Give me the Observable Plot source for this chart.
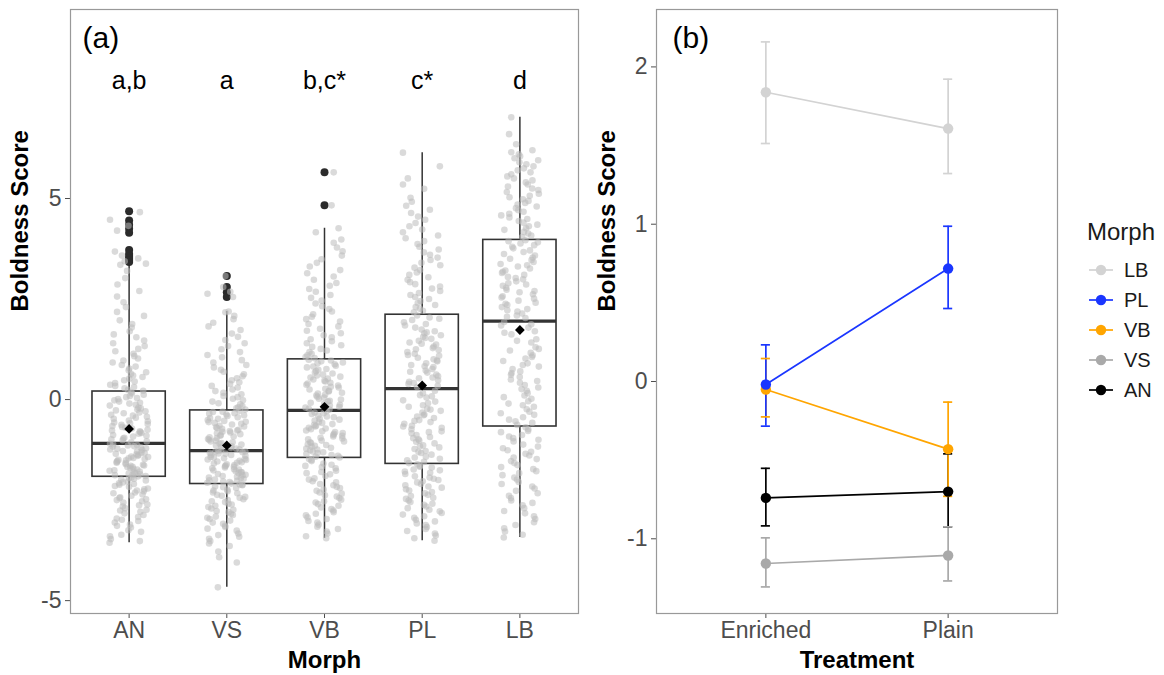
<!DOCTYPE html>
<html><head><meta charset="utf-8">
<script src="https://cdn.jsdelivr.net/npm/d3@7"></script>
<script src="https://cdn.jsdelivr.net/npm/@observablehq/plot@0.6"></script>
<style>
body{margin:0;background:#fff;font-family:"Liberation Sans",Arial,sans-serif;}
#wrap{position:relative;width:1164px;height:675px;overflow:hidden;background:#fff;}
#a{position:absolute;left:0;top:0;}
#b{position:absolute;left:590px;top:0;}
#legend{position:absolute;left:1085px;top:215px;}
</style></head><body>
<div id="wrap"><div id="a"></div><div id="b"></div><div id="legend"></div></div>
<script>
// ---------- Panel (a) data ----------
const morphs = ["AN", "VS", "VB", "PL", "LB"];
const letters = ["a,b", "a", "b,c*", "c*", "d"];
const boxQ1 = [-1.92, -2.10, -1.45, -1.60, -0.67];
const boxMedian = [-1.09, -1.27, -0.27, 0.27, 1.95];
const boxQ3 = [0.20, -0.27, 1.00, 2.11, 3.97];
const whiskerLow = [-3.56, -4.67, -3.45, -3.51, -3.43];
const whiskerHigh = [3.38, 2.19, 4.26, 6.14, 7.02];
const morphMean = [-0.73, -1.14, -0.18, 0.35, 1.73];
const outliersAN = [4.68, 4.45, 4.35, 4.25, 4.15, 3.72, 3.62, 3.57, 3.52, 3.47, 3.42];
const outliersVS = [3.07, 2.80, 2.67, 2.55];
const outliersVB = [5.65, 4.83];
const outliersPL = [];
const outliersLB = [];

const scoresAN = [-3.56,-3.47,-3.36,-3.29,-3.18,-3.11,-3.02,-2.96,-2.87,-2.79,-2.74,-2.66,-2.61,-2.53,-2.48,-2.43,-2.36,-2.31,-2.26,-2.21,-2.17,-2.12,-2.08,-2.04,-2.01,-1.97,-1.94,
 -1.91,-1.88,-1.86,-1.83,-1.79,-1.76,-1.74,-1.70,-1.67,-1.64,-1.61,-1.57,-1.55,-1.51,-1.48,-1.45,-1.42,-1.38,-1.35,-1.32,-1.29,-1.25,-1.22,-1.19,-1.16,-1.13,-1.10,
 -1.06,-1.01,-0.97,-0.92,-0.88,-0.83,-0.79,-0.75,-0.70,-0.66,-0.61,-0.57,-0.52,-0.48,-0.43,-0.38,-0.34,-0.29,-0.25,-0.20,-0.15,-0.10,-0.05,0.01,0.06,0.12,0.18,
 0.24,0.31,0.37,0.45,0.52,0.60,0.68,0.77,0.86,0.97,1.08,1.20,1.33,1.47,1.62,1.79,1.97,2.18,2.42,2.70,3.02,3.35,3.44,3.51,3.58,3.68,4.20,4.32,4.47,4.66];
const scoresAN2 = [-3.52,-3.40,-3.25,-3.14,-3.06,-2.99,-2.92,-2.83,-2.76,-2.70,-2.63,-2.56,-2.50,-2.45,-2.39,-2.33,-2.28,-2.23,-2.15,-2.10,-2.06,-1.99,-1.95,
 -1.90,-1.87,-1.84,-1.80,-1.77,-1.72,-1.68,-1.65,-1.62,-1.58,-1.53,-1.50,-1.46,-1.43,-1.40,-1.36,-1.33,-1.28,-1.24,-1.21,-1.17,-1.14,-1.11,
 -1.04,-0.99,-0.95,-0.90,-0.85,-0.81,-0.77,-0.72,-0.68,-0.63,-0.59,-0.54,-0.45,-0.40,-0.32,-0.27,-0.22,-0.13,-0.08,-0.02,0.04,0.09,0.15,
 0.22,0.28,0.34,0.41,0.48,0.56,0.64,0.73,0.82,0.92,1.02,1.14,1.26,1.40,1.55,1.70,1.88,2.08,2.30,2.56,2.86,3.20,3.38];
const scoresVS = [-4.67,-3.92,-3.64,-3.52,-3.41,-3.33,-3.21,-3.14,-3.06,-2.97,-2.91,-2.84,-2.77,-2.71,-2.64,-2.59,-2.53,-2.48,-2.42,-2.37,-2.33,-2.28,-2.24,-2.20,-2.16,-2.13,-2.11,
 -2.07,-2.04,-2.01,-1.97,-1.94,-1.90,-1.87,-1.83,-1.80,-1.76,-1.73,-1.69,-1.66,-1.63,-1.59,-1.56,-1.52,-1.49,-1.46,-1.43,-1.40,-1.37,-1.35,-1.33,-1.31,-1.29,-1.28,
 -1.24,-1.20,-1.16,-1.12,-1.08,-1.04,-1.00,-0.96,-0.92,-0.88,-0.84,-0.80,-0.77,-0.73,-0.69,-0.65,-0.62,-0.58,-0.55,-0.51,-0.48,-0.44,-0.41,-0.37,-0.34,-0.31,-0.28,
 -0.22,-0.16,-0.09,-0.02,0.06,0.13,0.21,0.30,0.39,0.48,0.58,0.69,0.80,0.92,1.05,1.18,1.33,1.48,1.64,1.82,2.00,2.19,2.55,2.63,2.68,2.80,3.07];
const scoresVS2 = [-4.05,-3.78,-3.58,-3.46,-3.37,-3.26,-3.17,-3.09,-3.01,-2.94,-2.87,-2.80,-2.74,-2.67,-2.61,-2.55,-2.50,-2.44,-2.39,-2.31,-2.26,-2.18,-2.12,
 -2.09,-2.05,-2.02,-1.99,-1.95,-1.92,-1.88,-1.85,-1.81,-1.78,-1.74,-1.71,-1.67,-1.64,-1.61,-1.57,-1.54,-1.50,-1.47,-1.44,-1.38,-1.34,-1.30,
 -1.26,-1.22,-1.18,-1.14,-1.10,-1.06,-1.02,-0.98,-0.94,-0.90,-0.86,-0.82,-0.78,-0.75,-0.71,-0.67,-0.60,-0.56,-0.53,-0.46,-0.39,-0.35,-0.30,
 -0.25,-0.19,-0.12,-0.05,0.02,0.09,0.17,0.25,0.34,0.43,0.53,0.63,0.74,0.86,0.98,1.11,1.25,1.40,1.56,1.73,1.91,2.08,2.17];
const scoresVB = [-3.45,-3.33,-3.22,-3.11,-3.02,-2.93,-2.84,-2.76,-2.68,-2.60,-2.53,-2.45,-2.38,-2.31,-2.24,-2.17,-2.10,-2.03,-1.96,-1.90,-1.83,-1.77,-1.71,-1.65,-1.59,-1.53,-1.48,
 -1.42,-1.38,-1.33,-1.29,-1.24,-1.20,-1.15,-1.11,-1.06,-1.02,-0.97,-0.92,-0.88,-0.83,-0.79,-0.74,-0.70,-0.65,-0.61,-0.56,-0.52,-0.48,-0.44,-0.40,-0.36,-0.32,-0.29,
 -0.23,-0.18,-0.13,-0.08,-0.03,0.02,0.07,0.12,0.17,0.22,0.27,0.32,0.37,0.42,0.47,0.52,0.57,0.62,0.67,0.71,0.76,0.80,0.84,0.88,0.92,0.95,0.99,
 1.06,1.14,1.22,1.31,1.40,1.50,1.60,1.71,1.82,1.94,2.06,2.19,2.32,2.46,2.60,2.75,2.90,3.06,3.22,3.40,3.58,3.78,3.98,4.16,4.26,4.83,5.65];
const scoresVB2 = [-3.40,-3.28,-3.16,-3.06,-2.97,-2.88,-2.80,-2.72,-2.64,-2.56,-2.49,-2.41,-2.34,-2.27,-2.20,-2.13,-2.06,-1.99,-1.86,-1.80,-1.68,-1.62,-1.50,
 -1.44,-1.40,-1.35,-1.31,-1.26,-1.22,-1.17,-1.13,-1.08,-1.04,-0.99,-0.95,-0.90,-0.85,-0.81,-0.77,-0.72,-0.67,-0.63,-0.58,-0.50,-0.42,-0.34,
 -0.25,-0.20,-0.15,-0.10,-0.05,0.00,0.05,0.10,0.15,0.20,0.25,0.30,0.35,0.40,0.45,0.50,0.55,0.60,0.65,0.74,0.82,0.90,0.97,
 1.03,1.10,1.18,1.26,1.35,1.45,1.55,1.65,1.76,1.88,2.00,2.12,2.25,2.39,2.53,2.68,2.83,2.98,3.14,3.31,3.49,3.69,3.90];
const scoresPL = [-3.51,-3.38,-3.27,-3.17,-3.08,-2.99,-2.90,-2.82,-2.74,-2.66,-2.59,-2.51,-2.44,-2.37,-2.30,-2.23,-2.16,-2.10,-2.03,-1.97,-1.91,-1.85,-1.79,-1.74,-1.69,-1.65,-1.61,
 -1.55,-1.47,-1.42,-1.33,-1.28,-1.19,-1.14,-1.05,-0.99,-0.93,-0.84,-0.79,-0.70,-0.65,-0.56,-0.51,-0.42,-0.37,-0.28,-0.23,-0.14,-0.09,-0.02,0.05,0.11,0.16,0.22,
 0.31,0.39,0.44,0.53,0.58,0.67,0.72,0.81,0.86,0.95,1.00,1.09,1.14,1.23,1.28,1.37,1.42,1.51,1.56,1.65,1.70,1.79,1.84,1.92,1.98,2.04,2.09,
 2.17,2.26,2.35,2.45,2.55,2.65,2.76,2.87,2.98,3.10,3.22,3.34,3.47,3.60,3.73,3.87,4.01,4.16,4.31,4.47,4.64,4.82,5.02,5.24,5.50,5.80,6.14];
const scoresPL2 = [-3.45,-3.33,-3.22,-3.12,-3.03,-2.94,-2.86,-2.78,-2.70,-2.62,-2.55,-2.47,-2.40,-2.33,-2.26,-2.19,-2.13,-2.06,-2.00,-1.94,-1.82,-1.76,-1.67,
 -1.58,-1.51,-1.44,-1.37,-1.30,-1.23,-1.16,-1.09,-1.02,-0.96,-0.88,-0.81,-0.74,-0.67,-0.60,-0.53,-0.46,-0.39,-0.32,-0.25,-0.18,-0.05,0.08,
 0.34,0.41,0.48,0.55,0.62,0.69,0.76,0.83,0.90,0.97,1.04,1.11,1.18,1.25,1.32,1.39,1.46,1.53,1.60,1.67,1.74,1.88,2.01,
 2.21,2.30,2.40,2.50,2.60,2.70,2.81,2.92,3.04,3.16,3.28,3.40,3.53,3.66,3.80,3.94,4.08,4.23,4.39,4.55,4.72,4.92,5.35];
const scoresLB = [-3.43,-3.28,-3.12,-2.97,-2.83,-2.70,-2.57,-2.45,-2.33,-2.21,-2.10,-1.99,-1.88,-1.78,-1.68,-1.58,-1.48,-1.39,-1.30,-1.21,-1.12,-1.04,-0.96,-0.88,-0.81,-0.74,-0.69,
 -0.58,-0.50,-0.38,-0.30,-0.18,-0.10,0.02,0.10,0.22,0.30,0.42,0.50,0.62,0.70,0.82,0.90,1.02,1.10,1.22,1.30,1.42,1.50,1.62,1.70,1.79,1.87,1.93,
 2.03,2.09,2.19,2.25,2.35,2.41,2.51,2.57,2.67,2.73,2.83,2.89,2.99,3.05,3.15,3.21,3.31,3.37,3.47,3.53,3.62,3.67,3.76,3.80,3.88,3.91,3.96,
 4.04,4.13,4.22,4.31,4.40,4.49,4.58,4.67,4.76,4.85,4.94,5.03,5.12,5.21,5.30,5.40,5.50,5.60,5.70,5.80,5.90,6.00,6.10,6.20,6.35,6.60,7.02];
const scoresLB2 = [-3.36,-3.20,-3.05,-2.90,-2.77,-2.63,-2.51,-2.39,-2.27,-2.16,-2.05,-1.94,-1.83,-1.73,-1.63,-1.53,-1.44,-1.35,-1.26,-1.17,-1.00,-0.92,-0.78,
 -0.63,-0.54,-0.44,-0.34,-0.24,-0.14,-0.04,0.06,0.16,0.26,0.36,0.46,0.56,0.66,0.76,0.86,0.96,1.06,1.16,1.26,1.46,1.66,1.84,
 2.06,2.14,2.22,2.30,2.38,2.46,2.54,2.62,2.70,2.78,2.86,2.94,3.02,3.10,3.18,3.26,3.34,3.42,3.50,3.58,3.71,3.84,3.94,
 4.08,4.17,4.26,4.35,4.44,4.53,4.62,4.71,4.80,4.89,4.98,5.07,5.16,5.25,5.35,5.45,5.55,5.65,5.75,5.85,5.95,6.05,6.15];

// ---------- Panel (b) data ----------
const treatments = ["Enriched", "Plain"];
const groupsB = ["AN", "VS", "VB", "PL", "LB"];            // drawing order
const legendOrder = ["LB", "PL", "VB", "VS", "AN"];
const groupColors = {LB: "#d3d3d3", PL: "#1a36ff", VB: "#ffa500", VS: "#a9a9a9", AN: "#000000"};
const meanB = {AN: [-0.74, -0.70], VS: [-1.157, -1.106], VB: [-0.051, -0.430], PL: [-0.019, 0.718], LB: [1.839, 1.608]};
const lowB  = {AN: [-0.918, -0.924], VS: [-1.306, -1.268], VB: [-0.225, -0.730], PL: [-0.284, 0.464], LB: [1.513, 1.322]};
const highB = {AN: [-0.552, -0.460], VS: [-0.994, -0.924], VB: [0.146, -0.131], PL: [0.233, 0.987], LB: [2.159, 1.922]};

// ---------- build tables ----------
const FONT = '"Liberation Sans", Arial, Helvetica, sans-serif';
const scoreLists = [scoresAN.concat(scoresAN2), scoresVS.concat(scoresVS2), scoresVB.concat(scoresVB2), scoresPL.concat(scoresPL2), scoresLB.concat(scoresLB2)];
const outlierLists = [outliersAN, outliersVS, outliersVB, outliersPL, outliersLB];
const stats = morphs.map((m, i) => ({i, m, q1: boxQ1[i], med: boxMedian[i], q3: boxQ3[i], lo: whiskerLow[i], hi: whiskerHigh[i], mean: morphMean[i], label: letters[i]}));
// deterministic horizontal spread within ±0.2 of the category (layout only, scrambled to avoid stripes)
const spread = (k, g) => {
  const u = ((k * k * 0.6180339887 + k * 0.4142135 + g * 0.2718281) % 1 + 1) % 1;
  return (u - 0.5) * 0.4;
};
const points = scoreLists.flatMap((arr, g) => arr.map((v, k) => ({g, v, off: spread(k, g)})));
const outliers = outlierLists.flatMap((arr, g) => arr.map(v => ({g, v})));
const BW = 0.375;

const plotA = Plot.plot({
  width: 600, height: 675,
  marginLeft: 70, marginRight: 22, marginTop: 9, marginBottom: 62,
  style: {fontFamily: FONT, fontSize: "23px", background: "transparent", overflow: "visible"},
  x: {domain: [-0.6, 4.6], axis: null},
  y: {domain: [-5.32, 9.70], axis: null},
  marks: [
    Plot.axisX({ticks: morphs.map((_, i) => i), tickFormat: i => morphs[i], tickSize: 5, tickPadding: 3, color: "#4d4d4d", label: null}),
    Plot.axisY({ticks: [-5, 0, 5], tickFormat: d => String(d), tickSize: 5, tickPadding: 4, color: "#4d4d4d", label: null}),
    Plot.ruleX(stats, {x: "i", y1: "q3", y2: "hi", stroke: "#333", strokeWidth: 1.5}),
    Plot.ruleX(stats, {x: "i", y1: "lo", y2: "q1", stroke: "#333", strokeWidth: 1.5}),
    Plot.rect(stats, {x1: d => d.i - BW, x2: d => d.i + BW, y1: "q1", y2: "q3", fill: "none", stroke: "#333", strokeWidth: 1.6}),
    Plot.ruleY(stats, {y: "med", x1: d => d.i - BW, x2: d => d.i + BW, stroke: "#333", strokeWidth: 3.2}),
    Plot.dot(outliers, {x: "g", y: "v", r: 4, fill: "#2b2b2b", stroke: "none"}),
    Plot.dot(points, {x: d => d.g + d.off, y: "v", r: 3.3, fill: "#bcbcbc", fillOpacity: 0.55, stroke: "none"}),
    Plot.dot(stats, {x: "i", y: "mean", symbol: "diamond2", r: 4.4, fill: "black", stroke: "none"}),
    Plot.text(stats, {x: "i", y: () => 7.91, text: "label", fontSize: 25, fill: "black"}),
    Plot.text(["(a)"], {text: d => d, frameAnchor: "top-left", dx: 12, dy: 17, fontSize: 30, fill: "black"}),
    Plot.text(["Boldness Score"], {text: d => d, frameAnchor: "left", dx: -50, rotate: -90, fontSize: 24, fontWeight: "bold", fill: "black"}),
    Plot.text(["Morph"], {text: d => d, frameAnchor: "bottom", dy: 54, fontSize: 24, fontWeight: "bold", fill: "black"}),
    Plot.frame({stroke: "#999", strokeWidth: 1.2})
  ]
});
document.getElementById("a").appendChild(plotA);

const rowsB = groupsB.flatMap(g => treatments.map((t, ti) => ({g, t: ti, mean: meanB[g][ti], lo: lowB[g][ti], hi: highB[g][ti], c: groupColors[g]})));
const CAP = 0.025;
const plotB = Plot.plot({
  width: 480, height: 675,
  marginLeft: 66, marginRight: 13, marginTop: 9, marginBottom: 62,
  style: {fontFamily: FONT, fontSize: "23px", background: "transparent", overflow: "visible"},
  x: {domain: [-0.6, 1.6], axis: null},
  y: {domain: [-1.475, 2.365], axis: null},
  color: {type: "identity"},
  marks: [
    Plot.axisX({ticks: [0, 1], tickFormat: i => treatments[i], tickSize: 5, tickPadding: 3, color: "#4d4d4d", label: null}),
    Plot.axisY({ticks: [-1, 0, 1, 2], tickFormat: d => String(d), tickSize: 5, tickPadding: 4, color: "#4d4d4d", label: null}),
    Plot.ruleX(rowsB, {x: "t", y1: "lo", y2: "hi", stroke: "c", strokeWidth: 1.7}),
    Plot.ruleY(rowsB, {y: "lo", x1: d => d.t - CAP, x2: d => d.t + CAP, stroke: "c", strokeWidth: 1.7}),
    Plot.ruleY(rowsB, {y: "hi", x1: d => d.t - CAP, x2: d => d.t + CAP, stroke: "c", strokeWidth: 1.7}),
    Plot.line(rowsB, {x: "t", y: "mean", z: "g", stroke: "c", strokeWidth: 1.7}),
    Plot.dot(rowsB, {x: "t", y: "mean", r: 5.2, fill: "c", stroke: "none"}),
    Plot.text(["(b)"], {text: d => d, frameAnchor: "top-left", dx: 16, dy: 17, fontSize: 30, fill: "black"}),
    Plot.text(["Boldness Score"], {text: d => d, frameAnchor: "left", dx: -49, rotate: -90, fontSize: 24, fontWeight: "bold", fill: "black"}),
    Plot.text(["Treatment"], {text: d => d, frameAnchor: "bottom", dy: 54, fontSize: 24, fontWeight: "bold", fill: "black"}),
    Plot.frame({stroke: "#999", strokeWidth: 1.2})
  ]
});
document.getElementById("b").appendChild(plotB);

// ---------- legend ----------
const lg = d3.select("#legend").append("svg").attr("width", 79).attr("height", 200)
  .style("font-family", FONT);
lg.append("text").attr("x", 2).attr("y", 25).attr("font-size", 24).attr("fill", "#1a1a1a").text("Morph");
legendOrder.forEach((g, k) => {
  const cy = 55 + k * 30;
  lg.append("line").attr("x1", 4).attr("x2", 28).attr("y1", cy).attr("y2", cy).attr("stroke", groupColors[g]).attr("stroke-width", 1.7);
  lg.append("circle").attr("cx", 16).attr("cy", cy).attr("r", 5.2).attr("fill", groupColors[g]);
  lg.append("text").attr("x", 39).attr("y", cy).attr("dy", "0.35em").attr("font-size", 20).attr("fill", "#1a1a1a").text(g);
});
</script>
</body></html>
